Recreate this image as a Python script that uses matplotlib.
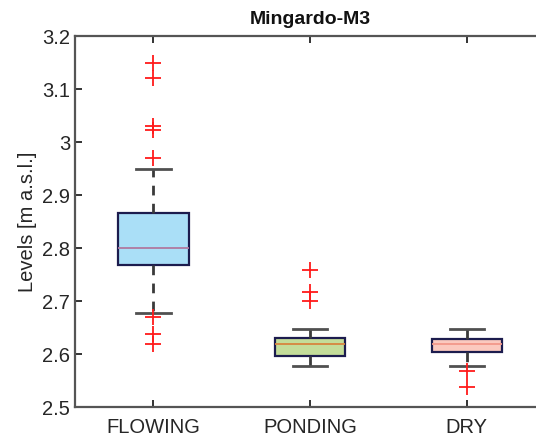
import matplotlib
matplotlib.use("Agg")
import matplotlib.pyplot as plt

plt.rcParams['font.family'] = ['Liberation Sans', 'DejaVu Sans']

categories = ["FLOWING", "PONDING", "DRY"]
medians = [2.800, 2.620, 2.619]
q1 = [2.768, 2.596, 2.604]
q3 = [2.866, 2.631, 2.629]
whisker_low = [2.678, 2.578, 2.578]
whisker_high = [2.949, 2.648, 2.648]
outliers = [
    [3.150, 3.121, 3.030, 3.024, 2.970, 2.670, 2.638, 2.619],
    [2.759, 2.718, 2.700],
    [2.569, 2.539],
]
y_ticks = [2.5, 2.6, 2.7, 2.8, 2.9, 3.0, 3.1, 3.2]
y_tick_labels = ["2.5", "2.6", "2.7", "2.8", "2.9", "3", "3.1", "3.2"]

face_colors = ["#aadff7", "#c4dd9a", "#fbc9bf"]
median_colors = ["#b07aa0", "#d7853f", "#f3988a"]

stats = []
for i, name in enumerate(categories):
    stats.append(dict(label=name, med=medians[i], q1=q1[i], q3=q3[i],
                      whislo=whisker_low[i], whishi=whisker_high[i],
                      fliers=outliers[i]))

fig = plt.figure(figsize=(5.36, 4.40), dpi=100)
# the axes run past the right edge of the figure, so the right frame is cut off
ax = fig.add_axes([0.140, 0.0743, 0.877, 0.843])

positions = [1, 2, 3]
bp = ax.bxp(stats, positions=positions, widths=0.45, patch_artist=True,
            showfliers=True,
            boxprops=dict(edgecolor="#1c1c4e", linewidth=1.6),
            whiskerprops=dict(color="#3a3a3a", linewidth=2.0, linestyle=(0, (3.5, 3))),
            capprops=dict(color="#505050", linewidth=2.0),
            medianprops=dict(linewidth=1.3),
            flierprops=dict(marker="+", markeredgecolor="#ff1a1a",
                            markersize=12, markeredgewidth=1.3, linestyle="none"))
for cap in bp["caps"]:
    x = cap.get_xdata()
    c = (x[0] + x[1]) / 2
    cap.set_xdata([c - 0.11, c + 0.11])
for patch, fc in zip(bp["boxes"], face_colors):
    patch.set_facecolor(fc)
for med, mc in zip(bp["medians"], median_colors):
    med.set_color(mc)

ax.set_xlim(0.5, 3.5)
ax.set_ylim(2.5, 3.2)
ax.set_yticks(y_ticks)
ax.set_yticklabels(y_tick_labels)
ax.set_xticks(positions)
ax.set_xticklabels(categories)
ax.tick_params(direction="in", length=5, width=1.4, colors="#333333",
               labelsize=14.5, labelcolor="#262626", top=True, right=False)
ax.tick_params(axis="x", pad=8)
for s in ax.spines.values():
    s.set_color("#555555")
    s.set_linewidth(1.6)
ax.spines["right"].set_visible(False)

ax.set_ylabel("Levels [m a.s.l.]", fontsize=14.5, color="#262626", labelpad=4)
ax.set_title("Mingardo-M3", fontsize=14, fontweight="bold", color="#111111", pad=9)

fig.savefig("out.png", dpi=100)
